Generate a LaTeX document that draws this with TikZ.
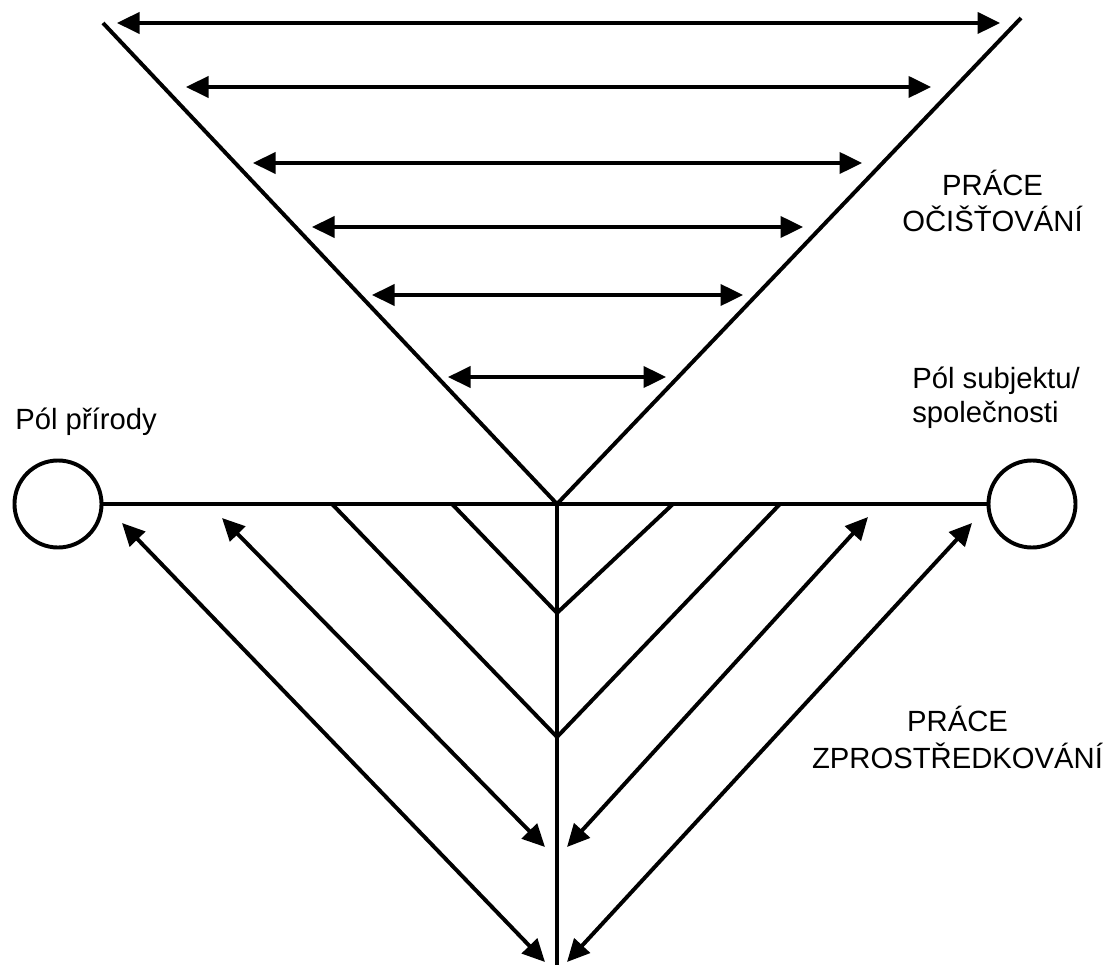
\documentclass[tikz,border=0pt]{standalone}
\usepackage{fontspec}
\setmainfont{Liberation Sans}
\usetikzlibrary{arrows.meta, positioning}

\begin{document}
\begin{tikzpicture}[x=0.025cm, y=-0.025cm,
  thick line/.style={line width=2.8pt},
  twoway/.style={line width=2.8pt, {Triangle[length=16pt, width=15pt]}-{Triangle[length=16pt, width=15pt]}},
  pole/.style={draw, circle, line width=2.8pt, minimum size=2.175cm, inner sep=0pt},
  lbl/.style={font=\fontsize{20.8}{26.3}\selectfont, inner sep=0pt}]
  \useasboundingbox (0,0) rectangle (1112,965);

  % Poles
  \node[pole] (nature) at (58, 504) {};
  \node[pole] (society) at (1032, 504) {};
  \coordinate (apex) at (557, 504);
  \coordinate (bottom) at (557, 965);
  \draw[thick line] (nature) -- (society);
  \draw[thick line] (apex) -- (bottom);

  % Purification
  \coordinate (topL) at (103, 23);
  \coordinate (topR) at (1021, 18);
  \draw[thick line] (topL) -- (apex) -- (topR);
  \foreach \i/\y/\xl/\xr in {1/23/117/1000, 2/87/186/931, 3/163/253/862,
                             4/227/312/803, 5/295/372/743, 6/377/448/666} {
    \coordinate (pl\i) at (\xl, \y);
    \coordinate (pr\i) at (\xr, \y);
    \draw[twoway] (pl\i) -- (pr\i);
  }

  % Mediation
  \coordinate (in1) at (452, 504);
  \coordinate (in2) at (557, 613);
  \coordinate (in3) at (673, 504);
  \coordinate (out1) at (332, 504);
  \coordinate (out2) at (557, 737);
  \coordinate (out3) at (780, 504);
  \draw[thick line] (in1) -- (in2) -- (in3);
  \draw[thick line] (out1) -- (out2) -- (out3);

  \coordinate (mA) at (122, 523);
  \coordinate (mB) at (222, 518);
  \coordinate (mC) at (868, 517);
  \coordinate (mD) at (972, 523);
  \coordinate (mlow) at (545, 962);
  \coordinate (mlowin) at (545, 847);
  \coordinate (mrowin) at (567, 847);
  \coordinate (mrow) at (567, 962);
  \draw[twoway] (mA) -- (mlow);
  \draw[twoway] (mB) -- (mlowin);
  \draw[twoway] (mC) -- (mrowin);
  \draw[twoway] (mD) -- (mrow);

  % Labels
  \node[lbl, align=center, anchor=base] (purif) at (992.5, 232) {PRÁCE\\OČIŠŤOVÁNÍ};
  \node[lbl, align=center, anchor=base] (medi) at (957.5, 768) {PRÁCE\\ZPROSTŘEDKOVÁNÍ};
  \node[lbl, align=left, anchor=base west, font=\fontsize{20.8}{24}\selectfont] (socname) at (912, 422) {Pól subjektu/\\společnosti};
  \node[lbl, anchor=base west] (natname) at (15, 429) {Pól přírody};
\end{tikzpicture}
\end{document}
